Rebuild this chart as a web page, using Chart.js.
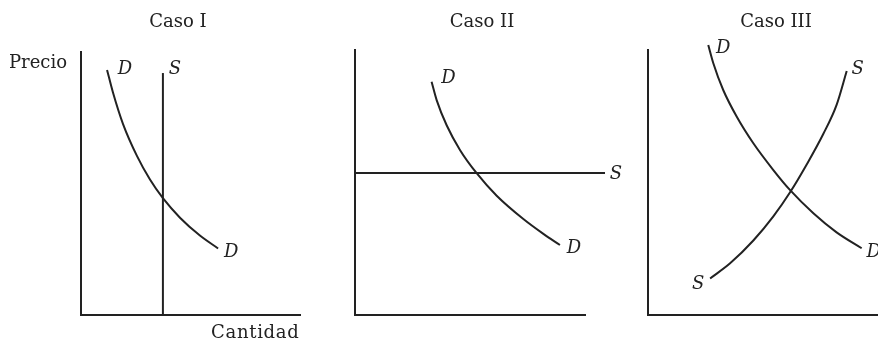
<!DOCTYPE html>
<html>
<head>
<meta charset="utf-8">
<script src="https://cdn.jsdelivr.net/npm/chart.js@4.4.1/dist/chart.umd.min.js"></script>
<style>
    html, body { margin: 0; padding: 0; background: #fff; overflow: hidden; }
    #lienzo { position: relative; width: 878px; height: 340px; }
    #lienzo canvas { position: absolute; left: 0; top: 0; }
    .texto {
        position: absolute;
        font-family: "DejaVu Serif", serif;
        font-size: 18px;
        line-height: 18px;
        color: #222;
        white-space: nowrap;
    }
    .titulo { width: 200px; text-align: center; }
</style>
</head>
<body>
<div id="lienzo">
    <canvas id="caso1" width="878" height="340"></canvas>
    <canvas id="caso2" width="878" height="340"></canvas>
    <canvas id="caso3" width="878" height="340"></canvas>
    <div class="texto titulo" style="left:78px; top:12px;">Caso I</div>
    <div class="texto titulo" style="left:382px; top:12px;">Caso II</div>
    <div class="texto titulo" style="left:676px; top:12px;">Caso III</div>
    <div class="texto" style="left:9px; top:53px;">Precio</div>
    <div class="texto" style="left:211px; top:323px; letter-spacing:0.7px;">Cantidad</div>
</div>
<script>
// Caso I: oferta vertical
const caso1DemandaQ = [1.19, 1.46, 1.92, 2.56, 3.15, 3.74, 4.52, 5.43, 6.26];
const caso1DemandaP = [9.32, 8.46, 7.26, 6.04, 5.15, 4.44, 3.70, 3.02, 2.53];
const caso1OfertaQ = [3.74, 3.74];
const caso1OfertaP = [0, 9.2];

// Caso II: oferta horizontal
const caso2DemandaQ = [3.33, 3.55, 3.99, 4.57, 5.29, 6.16, 7.32, 8.19, 8.91];
const caso2DemandaP = [8.80, 8.11, 7.15, 6.22, 5.35, 4.50, 3.62, 3.06, 2.64];
const caso2OfertaQ = [0, 10.87];
const caso2OfertaP = [5.36, 5.36];

// Caso III: oferta con pendiente positiva
const caso3DemandaQ = [2.62, 2.84, 3.27, 3.86, 4.58, 5.45, 6.17, 7.19, 8.20, 9.29];
const caso3DemandaP = [10.19, 9.50, 8.49, 7.48, 6.48, 5.47, 4.72, 3.84, 3.12, 2.52];
const caso3OfertaQ = [2.70, 3.57, 4.58, 5.45, 6.17, 6.90, 7.62, 8.20, 8.64];
const caso3OfertaP = [1.38, 1.95, 2.81, 3.72, 4.62, 5.68, 6.83, 7.93, 9.21];

const ejeMin = 0;
const ejeMax = 10;

const tinta = '#222';

function puntos(qs, ps) {
    return qs.map((q, i) => ({ x: q, y: ps[i] }));
}

function curva(qs, ps, etiquetas) {
    return {
        data: puntos(qs, ps),
        showLine: true,
        borderColor: tinta,
        borderWidth: 2,
        pointRadius: 0,
        cubicInterpolationMode: 'monotone',
        clip: false,
        etiquetas: etiquetas,
    };
}

// letras D y S junto a los extremos de cada curva
const etiquetasPlugin = {
    id: 'etiquetas',
    afterDatasetsDraw(chart) {
        const ctx = chart.ctx;
        ctx.save();
        ctx.font = 'italic 18px "DejaVu Serif"';
        ctx.fillStyle = tinta;
        ctx.textAlign = 'center';
        ctx.textBaseline = 'middle';
        chart.data.datasets.forEach((ds, i) => {
            const pts = chart.getDatasetMeta(i).data;
            (ds.etiquetas || []).forEach(e => {
                const p = pts[e.punto < 0 ? pts.length + e.punto : e.punto];
                ctx.fillText(e.texto, p.x + e.dx, p.y + e.dy);
            });
        });
        ctx.restore();
    }
};

function eje() {
    return {
        min: ejeMin,
        max: ejeMax,
        ticks: { display: false },
        grid: { display: false, drawTicks: false },
        border: { display: true, color: tinta, width: 2 },
    };
}

function opciones(padding) {
    return {
        responsive: false,
        animation: false,
        devicePixelRatio: 1,
        layout: { padding: padding },
        plugins: {
            legend: { display: false },
            tooltip: { enabled: false },
        },
        scales: { x: eje(), y: eje() },
    };
}

document.addEventListener('DOMContentLoaded', () => {
    // Caso I
    new Chart(document.getElementById('caso1'), {
        type: 'scatter',
        data: {
            datasets: [
                curva(caso1DemandaQ, caso1DemandaP, [
                    { texto: 'D', punto: 0, dx: 18, dy: -1 },
                    { texto: 'D', punto: -1, dx: 13, dy: 4 },
                ]),
                curva(caso1OfertaQ, caso1OfertaP, [
                    { texto: 'S', punto: -1, dx: 12, dy: -4 },
                ]),
            ]
        },
        options: opciones({ left: 81, top: 52, right: 578, bottom: 25 }),
        plugins: [etiquetasPlugin],
    });

    // Caso II
    new Chart(document.getElementById('caso2'), {
        type: 'scatter',
        data: {
            datasets: [
                curva(caso2DemandaQ, caso2DemandaP, [
                    { texto: 'D', punto: 0, dx: 17, dy: -3 },
                    { texto: 'D', punto: -1, dx: 14, dy: 3 },
                ]),
                curva(caso2OfertaQ, caso2OfertaP, [
                    { texto: 'S', punto: -1, dx: 11, dy: 1 },
                ]),
            ]
        },
        options: opciones({ left: 355, top: 50, right: 293, bottom: 25 }),
        plugins: [etiquetasPlugin],
    });

    // Caso III
    new Chart(document.getElementById('caso3'), {
        type: 'scatter',
        data: {
            datasets: [
                curva(caso3DemandaQ, caso3DemandaP, [
                    { texto: 'D', punto: 0, dx: 15, dy: 3 },
                    { texto: 'D', punto: -1, dx: 12, dy: 4 },
                ]),
                curva(caso3OfertaQ, caso3OfertaP, [
                    { texto: 'S', punto: -1, dx: 11, dy: -2 },
                    { texto: 'S', punto: 0, dx: -12, dy: 6 },
                ]),
            ]
        },
        options: opciones({ left: 648, top: 50, right: 0, bottom: 25 }),
        plugins: [etiquetasPlugin],
    });
});
</script>
</body>
</html>
